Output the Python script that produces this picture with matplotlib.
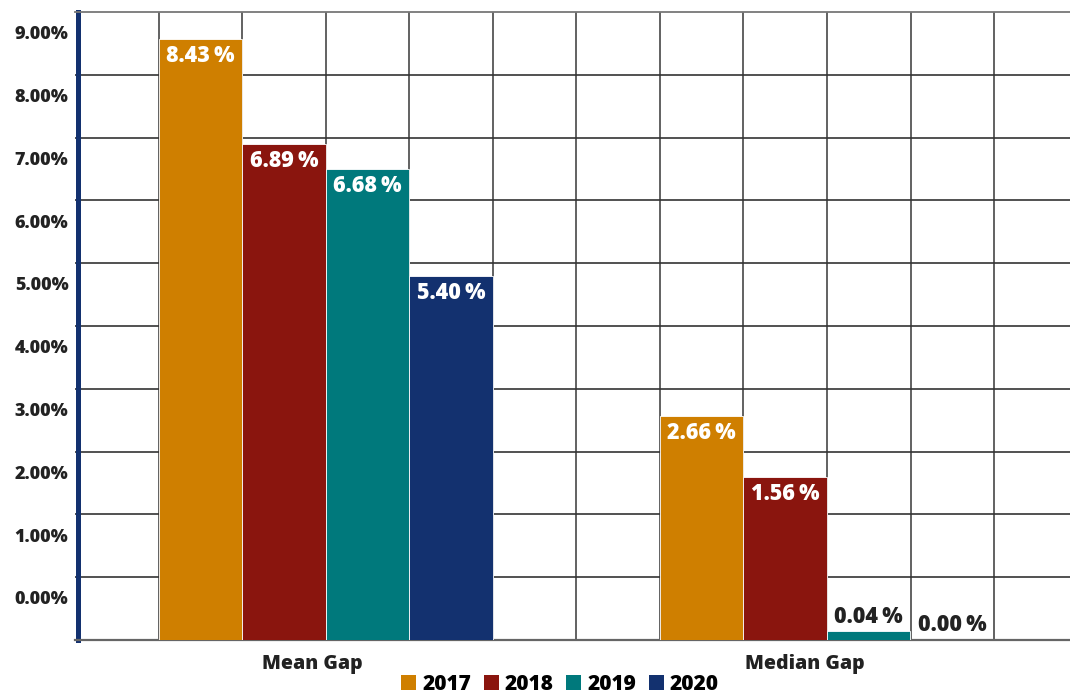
import numpy as np
import matplotlib
matplotlib.use("Agg")
import matplotlib.pyplot as plt
from matplotlib.patches import Patch

plt.rcParams["font.family"] = ["Open Sans", "DejaVu Sans"]
plt.rcParams["font.weight"] = "heavy"

# =============================================
# values
categories = ["Mean Gap", "Median Gap"]
years = ["2017", "2018", "2019", "2020"]
colors = ["#CF7F00", "#8A150E", "#00797C", "#13316F"]

# bar heights in grid units (one gridline band = 1 unit), as drawn
heights = {
    "2017": [9.57, 3.57],
    "2018": [7.90, 2.60],
    "2019": [7.50, 0.14],
    "2020": [5.80, 0.00],
}
# the printed labels on the bars
bar_labels = {
    "2017": ["8.43%", "2.66%"],
    "2018": ["6.89%", "1.56%"],
    "2019": ["6.68%", "0.04%"],
    "2020": ["5.40%", "0.00%"],
}
ytick_labels = ["0.00%", "1.00%", "2.00%", "3.00%", "4.00%",
                "5.00%", "6.00%", "7.00%", "8.00%", "9.00%"]

# =============================================

W, H = 1070, 697
fig = plt.figure(figsize=(W / 100, H / 100), dpi=100)
ax = fig.add_axes([75 / W, 57 / H, (W - 75) / W, 628 / H])

group_pos = np.array([3.0, 9.0])
offsets = [-1.5, -0.5, 0.5, 1.5]

for i, y in enumerate(years):
    xs = group_pos + offsets[i]
    bars = ax.bar(xs, heights[y], width=1.0, color=colors[i],
                  edgecolor="white", linewidth=0.6, zorder=3)
    for b, lab in zip(bars, bar_labels[y]):
        h = b.get_height()
        cx = b.get_x() + b.get_width() / 2
        txt = lab.replace("%", "\u2009%")
        if h > 0.5:
            ax.annotate(txt, (cx, h), xytext=(0, -12.5),
                        textcoords="offset points", ha="center", va="center",
                        color="white", fontsize=15.5, fontweight="heavy", zorder=4)
        else:
            ax.annotate(txt, (cx, h), xytext=(0, 10.5),
                        textcoords="offset points", ha="center", va="center",
                        color="#222222", fontsize=15.5, fontweight="heavy", zorder=4)

ax.set_xlim(0, (W - 75) / 83.55)
ax.set_ylim(0, 10)

# gridlines on the integer units, labels sit inside the bands
ax.set_yticks(np.arange(1, 10), minor=True)
ax.set_xticks(np.arange(1, 12), minor=True)
ax.grid(which="minor", axis="y", color="#333333", linewidth=1.2, zorder=1)
ax.grid(which="minor", axis="x", color="#555555", linewidth=1.3, zorder=1)
ax.set_yticks(np.arange(10) + 0.67, ytick_labels)
ax.set_xticks([2.84, 8.73], categories)
ax.tick_params(which="both", length=0)
ax.tick_params(axis="y", pad=6.5, labelsize=13, labelcolor="#222222")
ax.tick_params(axis="x", pad=10, labelsize=14, labelcolor="#222222")
for t in ax.get_xticklabels() + ax.get_yticklabels():
    t.set_fontweight("heavy")

ax.spines["left"].set_color("#13316F")
ax.spines["left"].set_linewidth(3.6)
ax.spines["left"].set_position(("outward", -1.8))
ax.spines["bottom"].set_color("#666666")
ax.spines["bottom"].set_linewidth(1.6)
ax.spines["top"].set_color("#777777")
ax.spines["top"].set_linewidth(1.3)
ax.spines["right"].set_visible(False)

handles = [Patch(facecolor=c, label=y) for c, y in zip(colors, years)]
fig.legend(handles=handles, loc="lower center", bbox_to_anchor=(560 / W, 0),
           ncol=4, frameon=False, prop={"size": 15, "weight": "heavy"},
           handlelength=0.72, handleheight=0.72, handletextpad=0.3,
           columnspacing=0.6, borderaxespad=0.0, borderpad=0.1)

fig.savefig("out.png", dpi=100)
